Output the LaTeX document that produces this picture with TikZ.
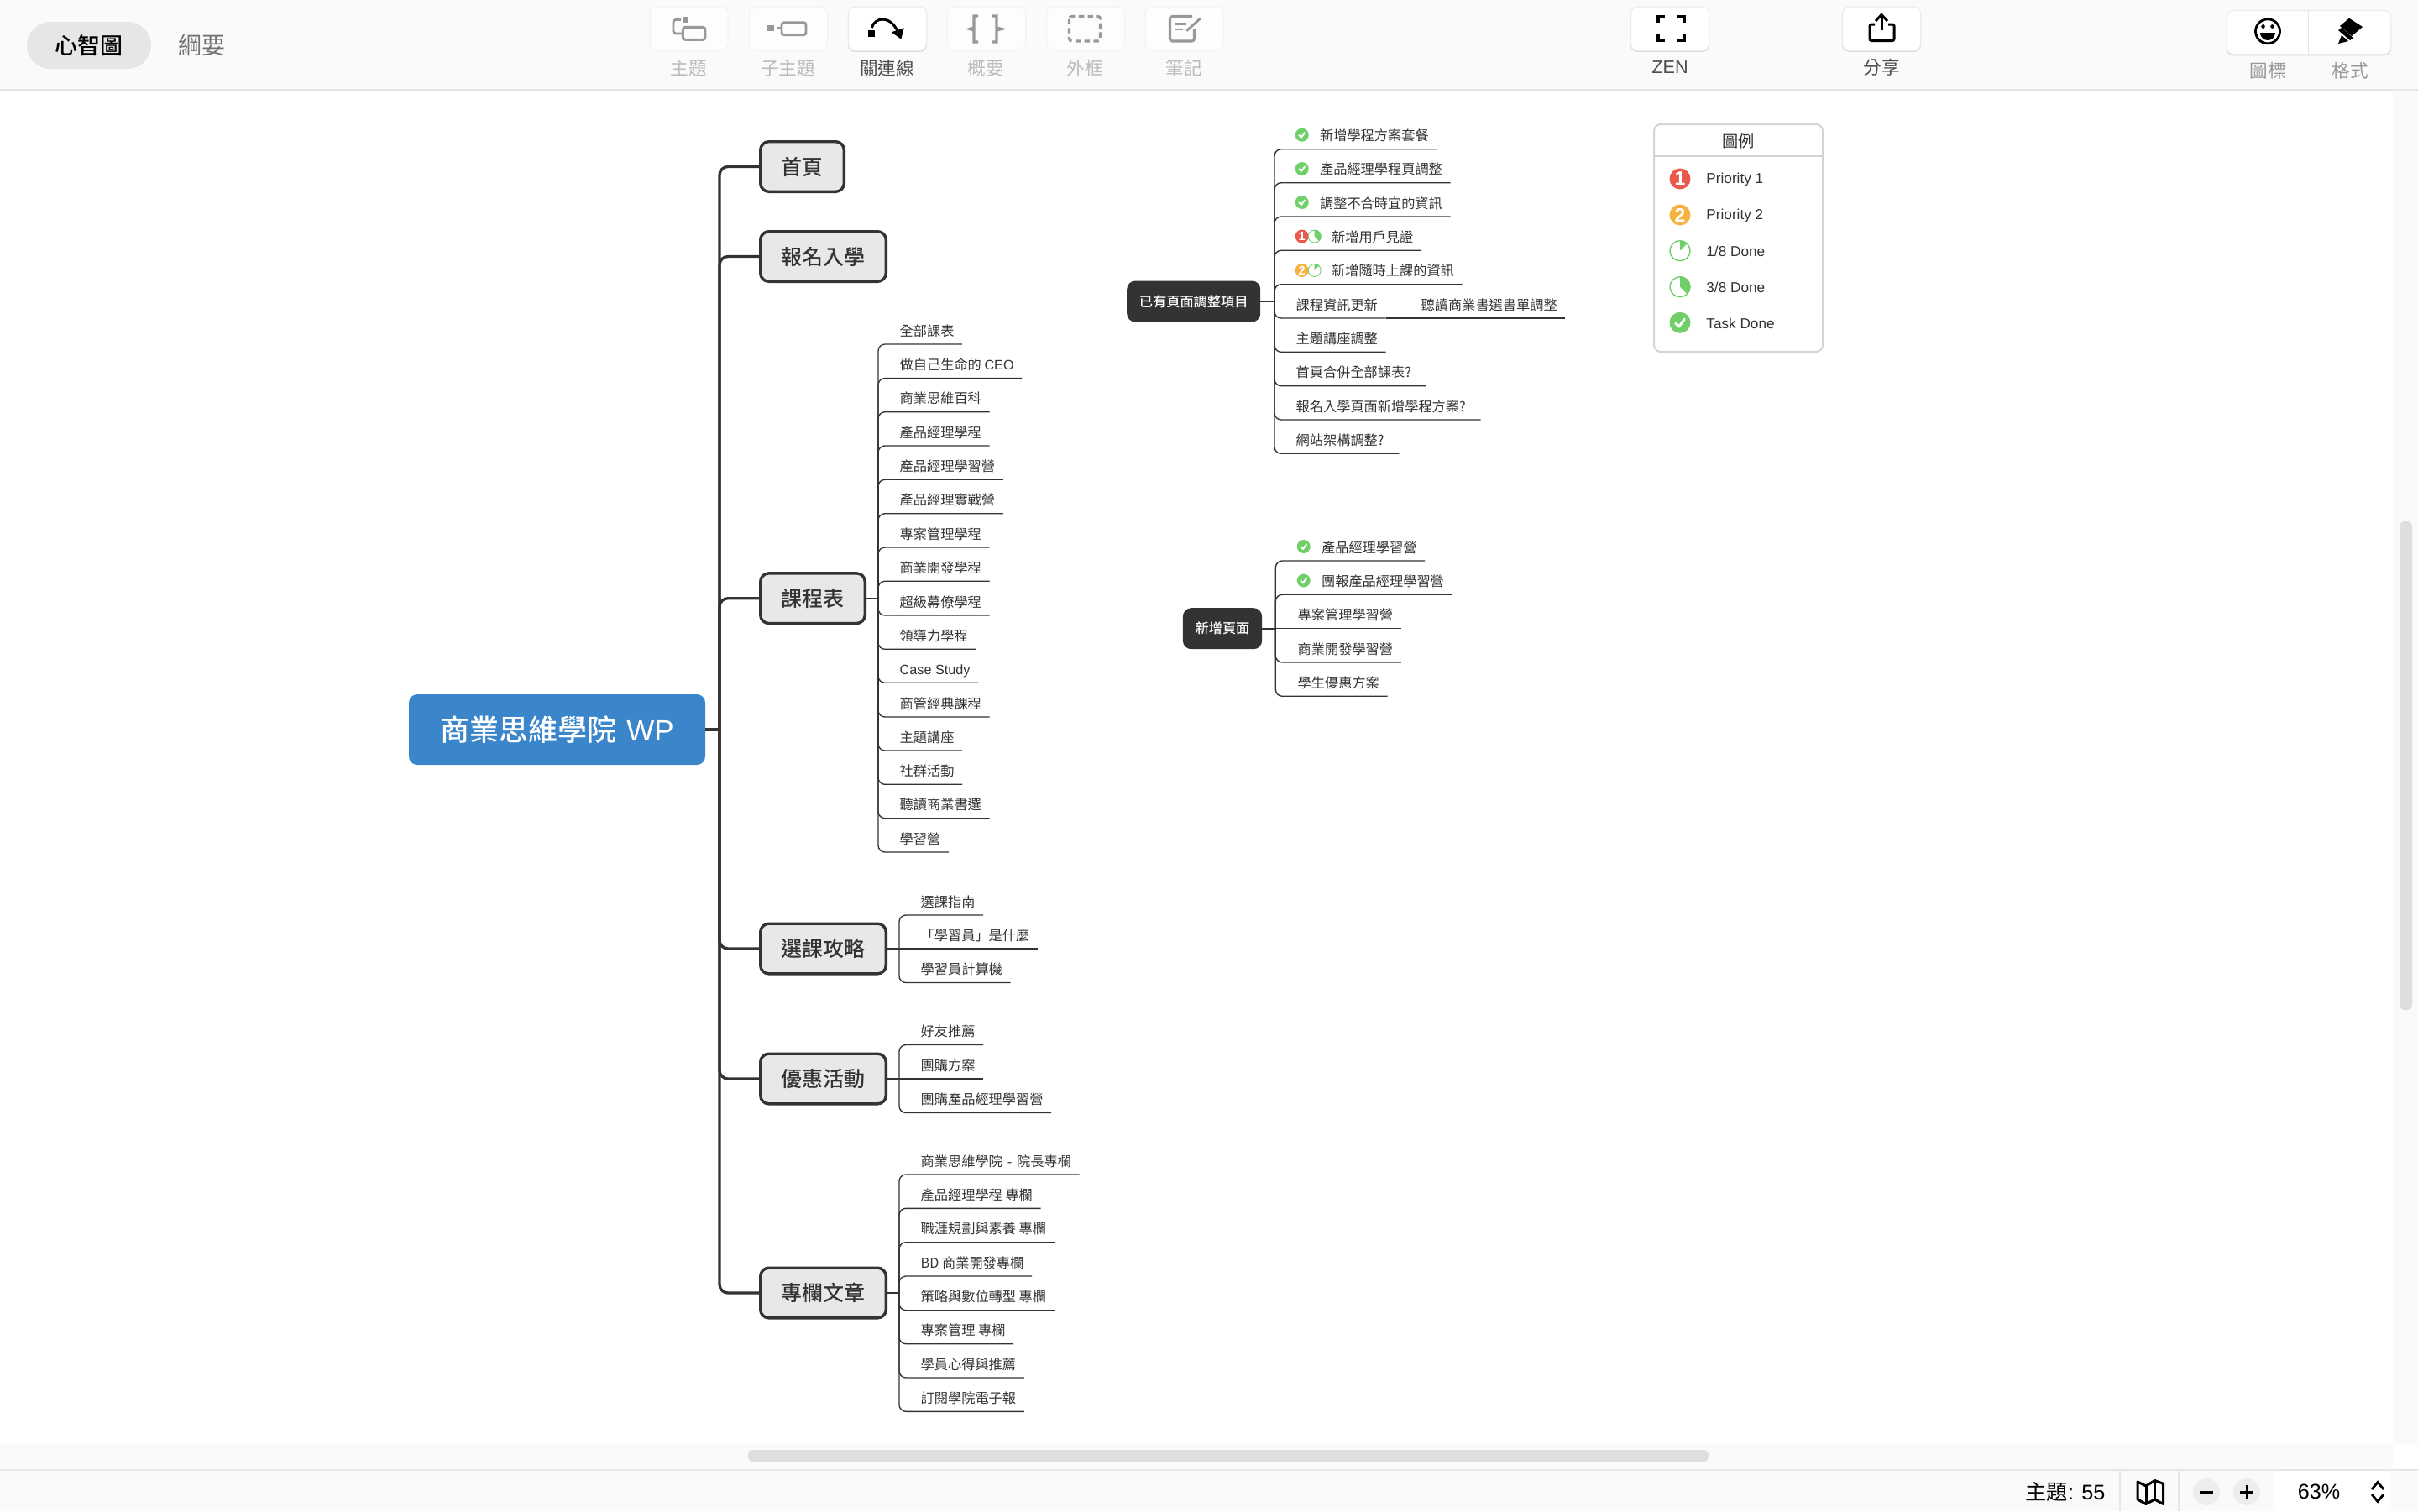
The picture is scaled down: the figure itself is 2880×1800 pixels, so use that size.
\documentclass[tikz,border=0pt]{standalone}
\usepackage{fontspec}
\setmainfont{Noto Sans CJK TC}
\newfontfamily\cjkm{Noto Sans CJK TC}[UprightFont=* Medium]
\newfontfamily\lat{Liberation Sans}
\definecolor{ink}{HTML}{333333}
\definecolor{barbg}{HTML}{FAFAFA}
\definecolor{barline}{HTML}{E6E6E6}
\definecolor{icgray}{HTML}{999999}
\definecolor{lbgray}{HTML}{BBBBBB}
\definecolor{okgreen}{HTML}{71CF6A}
\definecolor{redp}{HTML}{E9584B}
\definecolor{orgp}{HTML}{F6B240}
\definecolor{rootblue}{HTML}{3B86CB}
\definecolor{thumb}{HTML}{DEDEDE}
\tikzset{
  x=0.5pt,y=-0.5pt,
  rootbox/.style={fill=rootblue,rounded corners=5pt,text=white,outer sep=0pt,inner xsep=0pt,inner ysep=0pt,
     minimum width=176.5pt,minimum height=42pt,font=\cjkm\fontsize{17.5pt}{20pt}\selectfont},
  branch/.style={anchor=west,fill=black!9,draw=ink,line width=1.7pt,rounded corners=5pt,outer sep=0pt,
     inner xsep=12.4pt,inner ysep=0pt,minimum height=29.8pt,text=ink,font=\cjkm\fontsize{12.5pt}{15pt}\selectfont},
  darkbox/.style={fill=ink,rounded corners=5pt,outer sep=0pt,inner xsep=7.35pt,inner ysep=0pt,
     minimum height=24.5pt,text=white,font=\cjkm\fontsize{8.1pt}{10pt}\selectfont},
  leaf/.style={anchor=south west,outer sep=0pt,inner xsep=4.85pt,inner ysep=0pt,text height=7pt,text depth=5pt,
     text=ink,font=\fontsize{8.1pt}{10pt}\selectfont},
  conn/.style={draw=ink,line width=1.65pt,rounded corners=5pt},
  leafline/.style={draw=ink,line width=.68pt,rounded corners=4pt},
  stub/.style={draw=ink,line width=1.1pt},
  tbtn/.style={fill=white!60!barbg,draw=black!5,line width=.5pt,rounded corners=4pt,minimum height=26pt,inner sep=0pt,outer sep=0pt},
  tact/.style={fill=white,draw=black!8,line width=.5pt,rounded corners=4pt,minimum height=26pt,inner sep=0pt,outer sep=0pt,
     preaction={draw=black!14,line width=.6pt,transform canvas={yshift=-.6pt}}},
  tlabel/.style={inner sep=0pt,text=lbgray,font=\fontsize{10.8pt}{12pt}\selectfont},
  tlabelon/.style={inner sep=0pt,text=black!70,font=\fontsize{10.8pt}{12pt}\selectfont},
  gicon/.style={draw=icgray,line width=1.45pt},
  kicon/.style={draw=black,line width=1.5pt},
  lgtext/.style={anchor=west,inner sep=0pt,text=ink,font=\lat\fontsize{8.6pt}{10pt}\selectfont},
  stat/.style={inner sep=0pt,text=black,font=\lat\fontsize{12.6pt}{15pt}\selectfont},
}
% icons: #1 x, #2 y, #3 radius, all in picture units
\newcommand\icdone[3]{\begin{scope}[shift={(#1,#2)}]
  \fill[okgreen] (0,0) circle[radius=#3];
  \draw[white,line width=#3*0.12pt,line cap=round,line join=round]
     (-0.42*#3,0.05*#3) -- (-0.1*#3,0.38*#3) -- (0.42*#3,-0.32*#3);
\end{scope}}
\newcommand\icpie[4]{\begin{scope}[shift={(#1,#2)}]
  \fill[okgreen] (0,0) -- (0,-#3) arc[start angle=-90,end angle=#4,radius=#3] -- cycle;
  \draw[okgreen,line width=#3*0.055pt] (0,0) circle[radius=#3-0.5];
\end{scope}}
\newcommand\icprio[6]{\begin{scope}[shift={(#1,#2)}]
  \fill[#4] (0,0) circle[radius=#3];
  \pgfmathsetmacro\icfs{#3*0.92}
  \node[inner sep=0pt,text=white,font=\lat\bfseries\fontsize{\icfs pt}{#3pt}\selectfont] (#6) at (0,0) {#5};
\end{scope}}
% leaf: name, junction, x, y of underline, text
\newcommand\lf[5]{\node[leaf] (#1) at (#3,#4) {#5};
  \draw[leafline] (#2) |- (#1.south west) -- (#1.south east);}
\newcommand\lfs[5]{\node[leaf] (#1) at (#3,#4) {#5};
  \draw[leafline] (#2) -- (#1.south west) -- (#1.south east);}
\newcommand\qm{?\hspace*{4pt}}
\begin{document}
\begin{tikzpicture}
\useasboundingbox (0,0) rectangle (2880,1800);
\fill[white] (0,0) rectangle (2880,1800);
% window chrome
\fill[barbg] (0,0) rectangle (2880,106);
\fill[barline] (0,105.5) rectangle (2880,107.5);
\fill[barbg] (2850,107.5) rectangle (2880,1720);
\fill[barbg] (0,1720) rectangle (2850,1750);
\fill[barbg] (0,1750) rectangle (2880,1800);
\fill[barline] (0,1749.5) rectangle (2880,1751.5);
\fill[thumb,rounded corners=3pt] (891,1727) rectangle (2035,1741);
\fill[thumb,rounded corners=3pt] (2858,621) rectangle (2873,1203);
% tabs
\node[fill=barline,rounded corners=14pt,minimum width=74pt,minimum height=28pt,inner sep=0pt] (tabA) at (106,54) {};
\node[inner sep=0pt,text=black,font=\cjkm\fontsize{13.5pt}{16pt}\selectfont] (tabAt) at (106,54) {心智圖};
\node[inner sep=0pt,text=black!55,font=\fontsize{14pt}{16pt}\selectfont] (tabB) at (240,54) {綱要};
% toolbar buttons
\node[tbtn,minimum width=46.5pt] (bt1) at (820.5,34) {};
\node[tbtn,minimum width=46.5pt] (bt2) at (939,34) {};
\node[tact,minimum width=46.5pt] (bt3) at (1057,34) {};
\node[tbtn,minimum width=46.5pt] (bt4) at (1175,34) {};
\node[tbtn,minimum width=46.5pt] (bt5) at (1293,34) {};
\node[tbtn,minimum width=46.5pt] (bt6) at (1410.5,34) {};
\node[tact,minimum width=46.5pt] (bt7) at (1989,34) {};
\node[tact,minimum width=46.5pt] (bt8) at (2241,34) {};
\node[tact,minimum width=97.5pt] (bt9) at (2750,38.5) {};
\draw[black!10,line width=.5pt] (2749,13) -- (2749,64);
\node[tlabel] (tl1) at (820,81) {主題};
\node[tlabel] (tl2) at (938.7,81) {子主題};
\node[tlabelon] (tl3) at (1056.7,81) {關連線};
\node[tlabel] (tl4) at (1174.3,81) {概要};
\node[tlabel] (tl5) at (1292,81) {外框};
\node[tlabel] (tl6) at (1410,81) {筆記};
\node[tlabelon,font=\lat\fontsize{10.8pt}{12pt}\selectfont] (tl7) at (1989,80) {ZEN};
\node[tlabelon] (tl8) at (2241,80) {分享};
\node[tlabel,text=icgray] (tl9) at (2701,84) {圖標};
\node[tlabel,text=icgray] (tl10) at (2799,84) {格式};
% toolbar icons
\fill[icgray] (812.7,20) rectangle (820,27.3);
\draw[gicon,rounded corners=1.5pt] (813.3,32.3) rectangle (840,47.3);
\draw[gicon,rounded corners=1.5pt] (811,23.5) -- (802,23.5) -- (802,40) -- (813,40);
\fill[icgray] (914.3,30) rectangle (921.7,37.3);
\draw[gicon] (925.5,33.7) -- (930.5,33.7);
\draw[gicon,rounded corners=1.5pt] (931,26.7) rectangle (960,41.7);
\fill[black] (1034,36) rectangle (1042,44);
\draw[kicon] (1038.3,33) .. controls (1042,20) and (1060,18) .. (1069,37);
\fill[black] (1061.7,38.3) -- (1076.7,33.3) -- (1073.3,46.7) -- cycle;
\draw[gicon,line width=1.6pt] (1165,19) -- (1160,19) -- (1160,33) -- (1155,34.5) -- (1160,36) -- (1160,50) -- (1165,50);
\draw[gicon,line width=1.6pt] (1182,19) -- (1187,19) -- (1187,33) -- (1193,34.5) -- (1187,36) -- (1187,50) -- (1182,50);
\draw[gicon,line width=1.6pt,dash pattern=on 3.2pt off 2.2pt,rounded corners=1.5pt] (1273.5,19.5) rectangle (1310.5,49);
\draw[gicon,line width=1.6pt,rounded corners=1.5pt] (1420,19.5) -- (1393.5,19.5) -- (1393.5,49) -- (1422.5,49) -- (1422.5,35);
\draw[gicon] (1400,28.3) -- (1413.3,28.3);
\draw[gicon] (1400,35) -- (1409.3,35);
\draw[gicon] (1413.3,36.7) -- (1430,21.7);
\draw[kicon,line width=1.6pt] (1975,27) -- (1975,19.5) -- (1983,19.5);
\draw[kicon,line width=1.6pt] (1998,19.5) -- (2006.5,19.5) -- (2006.5,27);
\draw[kicon,line width=1.6pt] (1975,41) -- (1975,48.5) -- (1983,48.5);
\draw[kicon,line width=1.6pt] (1998,48.5) -- (2006.5,48.5) -- (2006.5,41);
\draw[kicon,line width=1.5pt,rounded corners=1pt] (2233,29) -- (2227,29) -- (2227,48.5) -- (2256,48.5) -- (2256,29) -- (2249,29);
\draw[kicon,line width=1.5pt] (2241,36) -- (2241,18);
\draw[kicon,line width=1.5pt] (2234,25) -- (2241,17.5) -- (2248,25);
\draw[black,line width=1.4pt] (2701,37.3) circle[radius=14.5];
\fill[black] (2695.5,31.5) circle[radius=2.3];
\fill[black] (2706.5,31.5) circle[radius=2.3];
\fill[black] (2692,39) -- (2710,39) arc[start angle=0,end angle=180,radius=9] -- cycle;
\fill[black] (2798,21.7) -- (2814,32) -- (2801,43) -- (2787,31) -- cycle;
\fill[black] (2785,36) -- (2789,33) -- (2803,45.5) -- (2799,48) -- cycle;
\fill[black] (2789,42) -- (2797,49) -- (2785,52) -- cycle;
% status bar
\draw[barline,line width=1pt] (2525,1751) -- (2525,1800);
\draw[barline,line width=1pt] (2595,1751) -- (2595,1800);
\node[stat,font=\fontsize{12.6pt}{15pt}\selectfont] (st1) at (2460,1777) {主題\lat: 55};
\draw[black,line width=1.5pt,line join=round] (2546,1765) -- (2556,1770) -- (2566.4,1763.5) -- (2576.7,1767.3) -- (2576.7,1791.5) -- (2566.4,1786) -- (2556,1791.5) -- (2546,1786) -- cycle;
\draw[black,line width=1.5pt] (2556,1770) -- (2556,1791.5) (2566.4,1763.5) -- (2566.4,1786);
\node[circle,fill=black!7,minimum size=16pt,inner sep=0pt] (zm) at (2628,1777) {};
\node[circle,fill=black!7,minimum size=16pt,inner sep=0pt] (zp) at (2676,1777) {};
\draw[black,line width=1.5pt] (2620,1777) -- (2636,1777) (2668,1777) -- (2684,1777) (2676,1769) -- (2676,1785);
\fill[white,rounded corners=4pt] (2708,1752) rectangle (2847.5,1800);
\node[stat] (st2) at (2762,1777) {63\%};
\draw[black,line width=1.4pt] (2825,1774) -- (2832,1765.5) -- (2839,1774) (2825,1780) -- (2832,1788.5) -- (2839,1780);
% legend
\node[draw=black!17,line width=1pt,fill=white,rounded corners=4pt,minimum width=100.5pt,minimum height=135.5pt,inner sep=0pt,outer sep=0pt] (lg) at (2070.5,283.5) {};
\draw[black!17,line width=1pt] (1970,186) -- (2171,186);
\node[inner sep=0pt,text=ink,font=\fontsize{9.6pt}{11pt}\selectfont] (lgt) at (2070.7,168.5) {圖例};
\icprio{2001}{213}{12.5}{redp}{1}{lgi1}
\icprio{2001}{256}{12.5}{orgp}{2}{lgi2}
\icpie{2001}{298.7}{12.5}{-45}
\icpie{2001}{341.7}{12.5}{45}
\icdone{2001}{384.3}{12.5}
\node[lgtext] (lg1) at (2032,214) {Priority 1};
\node[lgtext] (lg2) at (2032,257) {Priority 2};
\node[lgtext] (lg3) at (2032,299.5) {1/8 Done};
\node[lgtext] (lg4) at (2032,342.5) {3/8 Done};
\node[lgtext] (lg5) at (2032,385) {Task Done};
% map: root and branches
\node[rootbox] (root) at (663.5,869) {商業思維學院\hspace{6pt}{\lat WP}};
\coordinate (rj) at (857,869);
\node[branch] (b1) at (905.7,198.5) {首頁};
\node[branch] (b2) at (905.7,305.5) {報名入學};
\node[branch] (b3) at (905.7,712.7) {課程表};
\node[branch] (b4) at (905.7,1130) {選課攻略};
\node[branch] (b5) at (905.7,1285) {優惠活動};
\node[branch] (b6) at (905.7,1540) {專欄文章};
\draw[conn] (root.east) -- (rj);
\draw[conn] (rj) |- (b1.west);
\draw[conn] (rj) |- (b2.west);
\draw[conn] (rj) |- (b3.west);
\draw[conn] (rj) |- (b4.west);
\draw[conn] (rj) |- (b5.west);
\draw[conn] (rj) |- (b6.west);
% course list
\coordinate (j3) at (1046,712.7);
\draw[stub] (b3.east) -- (j3);
\lf{c1}{j3}{1062}{410}{全部課表}
\lf{c2}{j3}{1062}{450.5}{做自己生命的 {\lat CEO}}
\lf{c3}{j3}{1062}{490.7}{商業思維百科}
\lf{c4}{j3}{1062}{531}{產品經理學程}
\lf{c5}{j3}{1062}{571.3}{產品經理學習營}
\lf{c6}{j3}{1062}{611.7}{產品經理實戰營}
\lf{c7}{j3}{1062}{652}{專案管理學程}
\lf{c8}{j3}{1062}{692.3}{商業開發學程}
\lf{c9}{j3}{1062}{733}{超級幕僚學程}
\lf{c10}{j3}{1062}{773.3}{領導力學程}
\lf{c11}{j3}{1062}{813.3}{\lat Case Study}
\lf{c12}{j3}{1062}{854}{商管經典課程}
\lf{c13}{j3}{1062}{894}{主題講座}
\lf{c14}{j3}{1062}{934.3}{社群活動}
\lf{c15}{j3}{1062}{974.7}{聽讀商業書選}
\lf{c16}{j3}{1062}{1015}{學習營}
% guide
\coordinate (j4) at (1071,1130);
\draw[stub] (b4.east) -- (j4);
\lf{g1}{j4}{1087}{1090}{選課指南}
\lfs{g2}{j4}{1087}{1130}{「學習員」是什麼}
\lf{g3}{j4}{1087}{1170.5}{學習員計算機}
% offers
\coordinate (j5) at (1071,1285);
\draw[stub] (b5.east) -- (j5);
\lf{o1}{j5}{1087}{1244.5}{好友推薦}
\lfs{o2}{j5}{1087}{1285}{團購方案}
\lf{o3}{j5}{1087}{1325.5}{團購產品經理學習營}
% articles
\coordinate (j6) at (1071,1540);
\draw[stub] (b6.east) -- (j6);
\lf{a1}{j6}{1087}{1399}{商業思維學院\hspace{.7pt}{\lat\ -\ }\hspace{.7pt}院長專欄}
\lf{a2}{j6}{1087}{1439.3}{產品經理學程 專欄}
\lf{a3}{j6}{1087}{1479.7}{職涯規劃與素養 專欄}
\lf{a4}{j6}{1087}{1520}{BD 商業開發專欄}
\lf{a5}{j6}{1087}{1560.7}{策略與數位轉型 專欄}
\lf{a6}{j6}{1087}{1600.7}{專案管理 專欄}
\lf{a7}{j6}{1087}{1641}{學員心得與推薦}
\lf{a8}{j6}{1087}{1681.3}{訂閱學院電子報}
% floating: existing pages
\node[darkbox] (p) at (1421.7,359) {已有頁面調整項目};
\coordinate (jp) at (1518,359);
\draw[stub] (p.east) -- (jp);
\lf{p1}{jp}{1534}{177.7}{\hspace*{14.2pt}新增學程方案套餐}
\lf{p2}{jp}{1534}{217.7}{\hspace*{14.2pt}產品經理學程頁調整}
\lf{p3}{jp}{1534}{258}{\hspace*{14.2pt}調整不合時宜的資訊}
\lf{p4}{jp}{1534}{298.3}{\hspace*{21.2pt}新增用戶見證}
\lf{p5}{jp}{1534}{338.7}{\hspace*{21.2pt}新增隨時上課的資訊}
\lf{p6}{jp}{1534}{379}{課程資訊更新}
\node[leaf] (p6a) at (1683,379) {聽讀商業書選書單調整};
\draw[leafline] (p6.south east) -- (p6a.south west) -- (p6a.south east);
\lf{p7}{jp}{1534}{419.3}{主題講座調整}
\lf{p8}{jp}{1534}{459.7}{首頁合併全部課表\qm}
\lf{p9}{jp}{1534}{500}{報名入學頁面新增學程方案\qm}
\lf{p10}{jp}{1534}{540.3}{網站架構調整\qm}
\icdone{1550.7}{160.7}{8}
\icdone{1550.7}{201}{8}
\icdone{1550.7}{241}{8}
\icprio{1550.7}{281.5}{8}{redp}{1}{pi4}
\icpie{1565.7}{281.5}{8}{45}
\icprio{1550.7}{322}{8}{orgp}{2}{pi5}
\icpie{1565.7}{322}{8}{-45}
% floating: new pages
\node[darkbox] (n) at (1456,748.7) {新增頁面};
\coordinate (jn) at (1519.3,748.7);
\draw[stub] (n.east) -- (jn);
\lf{n1}{jn}{1536}{668}{\hspace*{14.2pt}產品經理學習營}
\lf{n2}{jn}{1536}{708.3}{\hspace*{14.2pt}團報產品經理學習營}
\lfs{n3}{jn}{1536}{748.7}{專案管理學習營}
\lf{n4}{jn}{1536}{789}{商業開發學習營}
\lf{n5}{jn}{1536}{829.3}{學生優惠方案}
\icdone{1552.7}{651}{8}
\icdone{1552.7}{691.5}{8}
\end{tikzpicture}
\end{document}
